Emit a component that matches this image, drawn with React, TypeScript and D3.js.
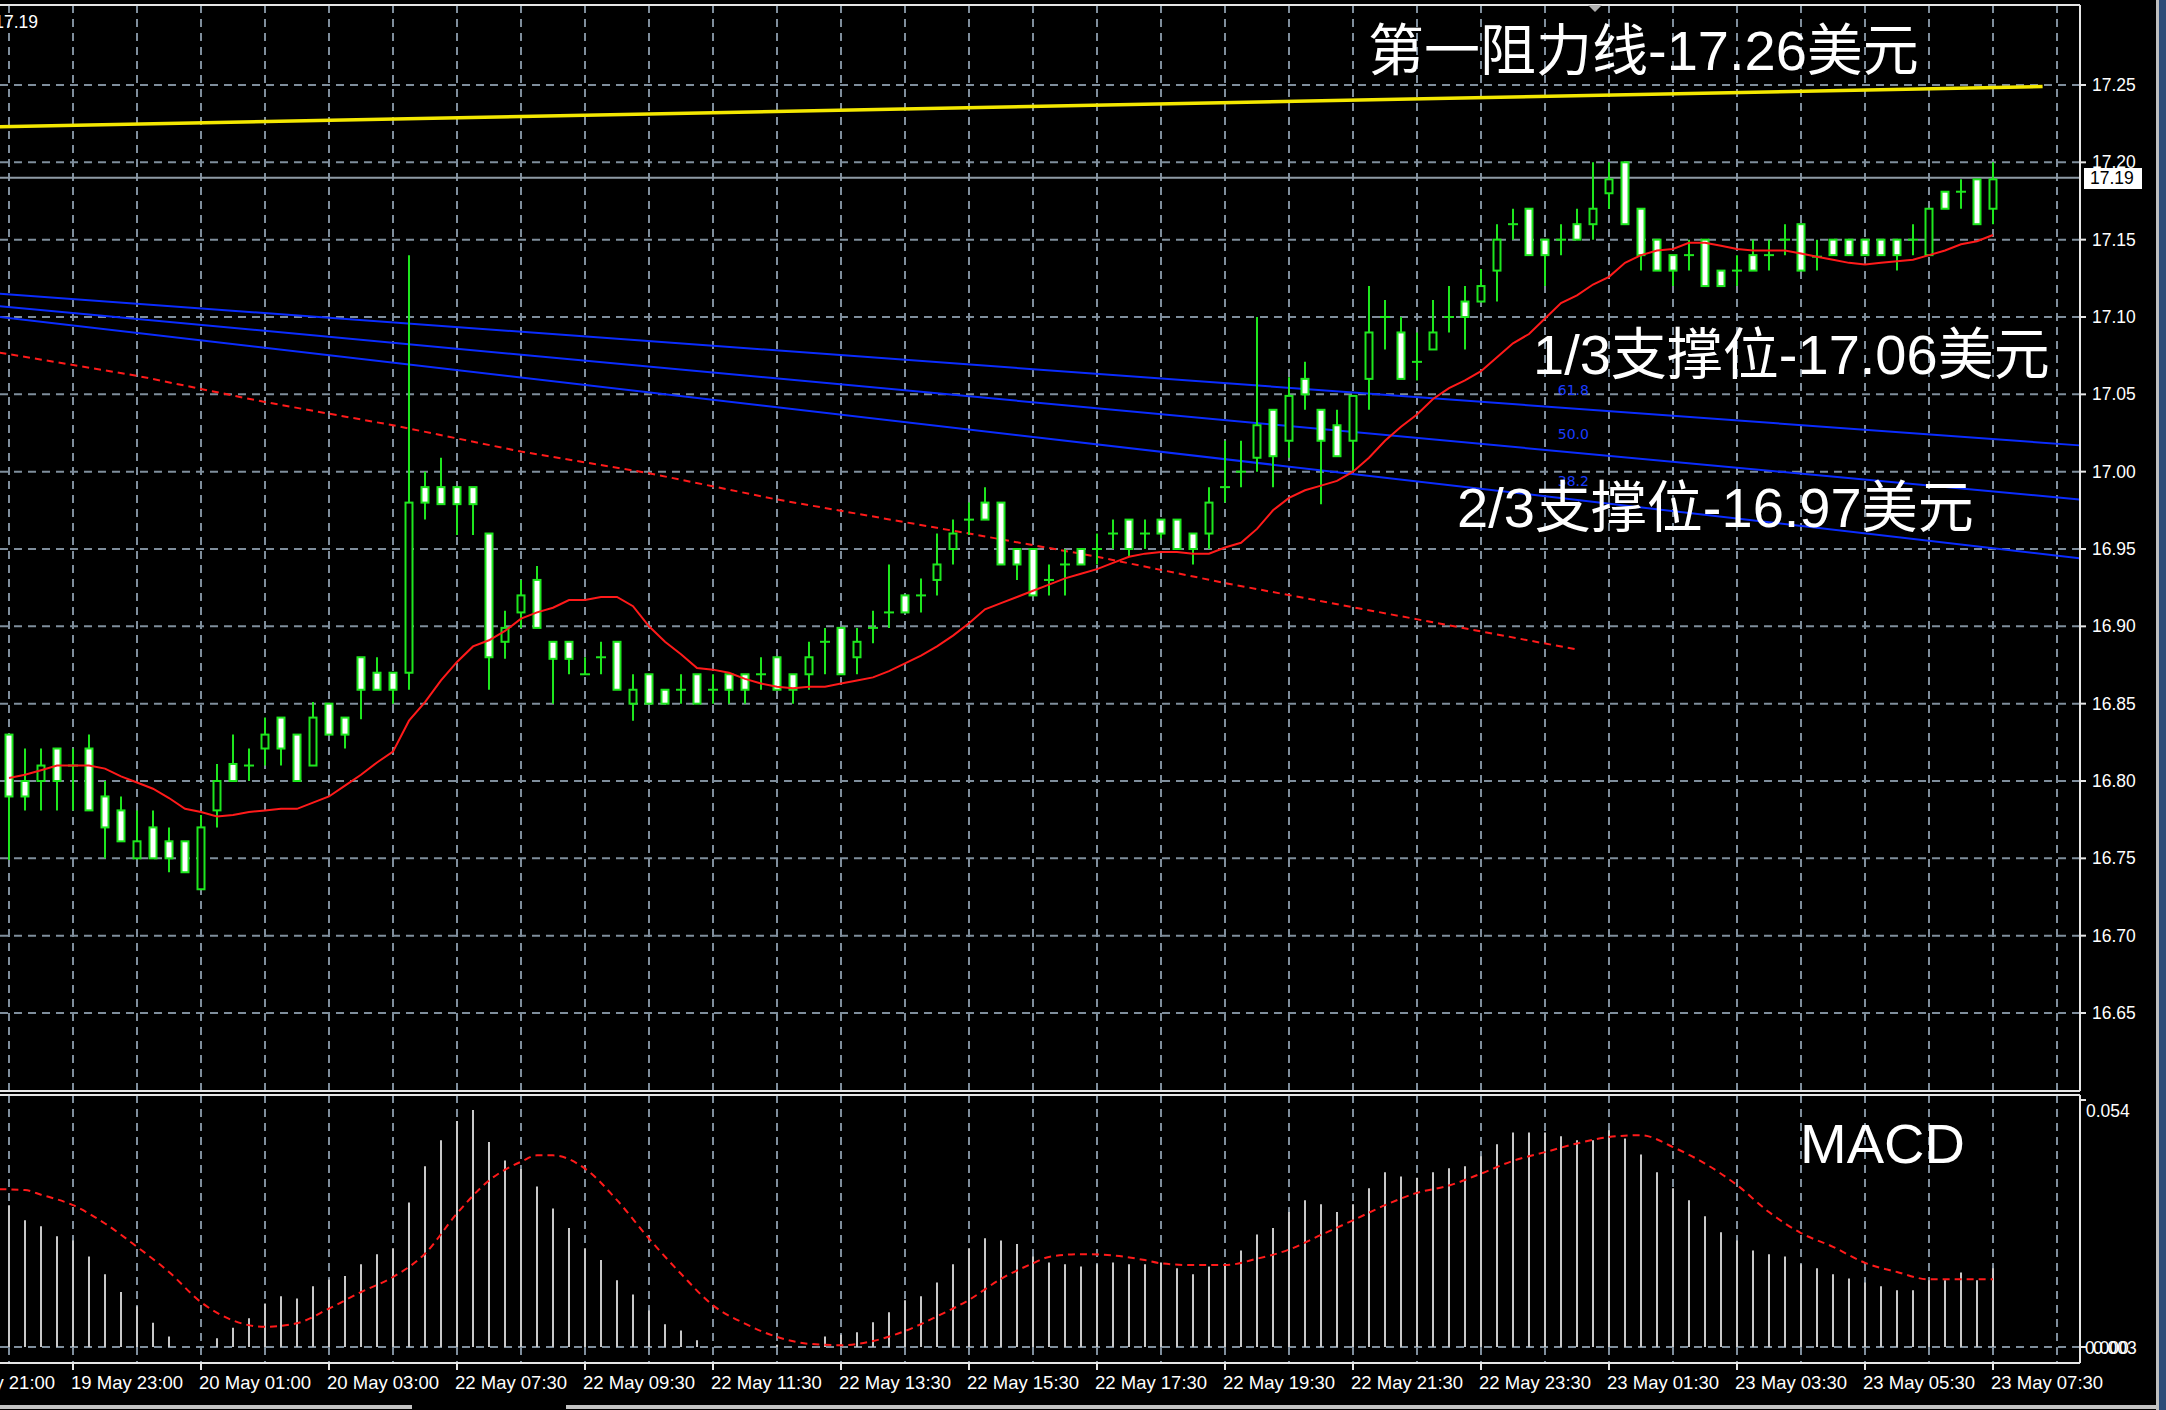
import React from 'react';
import * as d3 from 'd3';

// 15-minute candles, index 0 .. 124 (last bar = 23 May 07:30)
const opens = [
  16.830, 16.800, 16.800, 16.821, 16.810, 16.821, 16.790, 16.781, 16.750, 16.770,
  16.761, 16.761, 16.730, 16.781, 16.811, 16.810, 16.821, 16.841, 16.830, 16.810,
  16.850, 16.841, 16.880, 16.870, 16.870, 16.870, 16.990, 16.990, 16.990, 16.990,
  16.960, 16.890, 16.909, 16.930, 16.890, 16.890, 16.869, 16.880, 16.890, 16.850,
  16.869, 16.859, 16.859, 16.869, 16.859, 16.869, 16.869, 16.869, 16.880, 16.869,
  16.869, 16.890, 16.899, 16.880, 16.899, 16.909, 16.920, 16.920, 16.930, 16.950,
  16.969, 16.980, 16.980, 16.950, 16.950, 16.930, 16.940, 16.950, 16.950, 16.960,
  16.969, 16.960, 16.969, 16.969, 16.960, 16.960, 16.990, 17.000, 17.009, 17.040,
  17.020, 17.060, 17.040, 17.030, 17.020, 17.060, 17.100, 17.090, 17.071, 17.079,
  17.100, 17.110, 17.110, 17.130, 17.160, 17.170, 17.150, 17.150, 17.160, 17.160,
  17.180, 17.200, 17.170, 17.150, 17.140, 17.140, 17.150, 17.130, 17.130, 17.140,
  17.140, 17.150, 17.160, 17.139, 17.150, 17.150, 17.150, 17.150, 17.150, 17.150,
  17.140, 17.181, 17.181, 17.189, 17.170,
];
const highs = [
  16.830, 16.821, 16.821, 16.821, 16.821, 16.830, 16.800, 16.790, 16.781, 16.781,
  16.770, 16.761, 16.778, 16.811, 16.830, 16.821, 16.841, 16.841, 16.830, 16.851,
  16.850, 16.841, 16.880, 16.880, 16.870, 17.140, 17.000, 17.009, 16.990, 16.990,
  16.960, 16.910, 16.930, 16.939, 16.890, 16.890, 16.880, 16.890, 16.890, 16.869,
  16.869, 16.859, 16.869, 16.869, 16.869, 16.869, 16.869, 16.880, 16.880, 16.869,
  16.890, 16.899, 16.899, 16.899, 16.910, 16.940, 16.920, 16.931, 16.960, 16.969,
  16.980, 16.990, 16.980, 16.950, 16.950, 16.940, 16.950, 16.950, 16.960, 16.969,
  16.969, 16.969, 16.969, 16.969, 16.960, 16.990, 17.020, 17.020, 17.100, 17.040,
  17.061, 17.071, 17.040, 17.040, 17.049, 17.120, 17.111, 17.100, 17.090, 17.111,
  17.120, 17.120, 17.131, 17.160, 17.170, 17.170, 17.150, 17.160, 17.170, 17.200,
  17.200, 17.200, 17.170, 17.150, 17.140, 17.150, 17.150, 17.130, 17.140, 17.150,
  17.150, 17.160, 17.160, 17.150, 17.150, 17.150, 17.150, 17.150, 17.150, 17.160,
  17.170, 17.181, 17.189, 17.189, 17.200,
];
const lows = [
  16.749, 16.781, 16.781, 16.781, 16.781, 16.781, 16.750, 16.761, 16.750, 16.750,
  16.741, 16.741, 16.730, 16.770, 16.800, 16.800, 16.810, 16.810, 16.800, 16.810,
  16.830, 16.821, 16.840, 16.859, 16.850, 16.859, 16.969, 16.979, 16.959, 16.959,
  16.859, 16.879, 16.899, 16.899, 16.850, 16.869, 16.869, 16.869, 16.859, 16.839,
  16.850, 16.850, 16.850, 16.850, 16.850, 16.850, 16.850, 16.859, 16.859, 16.850,
  16.859, 16.869, 16.869, 16.869, 16.889, 16.899, 16.909, 16.909, 16.920, 16.940,
  16.959, 16.969, 16.940, 16.930, 16.920, 16.920, 16.920, 16.940, 16.940, 16.950,
  16.945, 16.950, 16.957, 16.950, 16.940, 16.950, 16.980, 16.990, 17.000, 16.990,
  17.009, 17.040, 16.979, 17.010, 17.000, 17.040, 17.079, 17.060, 17.059, 17.079,
  17.090, 17.079, 17.110, 17.110, 17.150, 17.140, 17.120, 17.140, 17.150, 17.150,
  17.170, 17.160, 17.130, 17.130, 17.120, 17.130, 17.120, 17.120, 17.120, 17.130,
  17.130, 17.140, 17.130, 17.130, 17.140, 17.140, 17.140, 17.140, 17.130, 17.140,
  17.140, 17.170, 17.170, 17.160, 17.160,
];
const closes = [
  16.790, 16.790, 16.810, 16.800, 16.810, 16.781, 16.770, 16.761, 16.761, 16.750,
  16.750, 16.741, 16.770, 16.800, 16.800, 16.810, 16.830, 16.821, 16.800, 16.841,
  16.830, 16.830, 16.859, 16.859, 16.859, 16.980, 16.980, 16.979, 16.979, 16.979,
  16.880, 16.899, 16.920, 16.899, 16.879, 16.879, 16.869, 16.880, 16.859, 16.859,
  16.850, 16.850, 16.859, 16.850, 16.859, 16.859, 16.859, 16.869, 16.859, 16.859,
  16.880, 16.890, 16.869, 16.890, 16.899, 16.909, 16.909, 16.920, 16.940, 16.960,
  16.969, 16.969, 16.940, 16.940, 16.920, 16.930, 16.940, 16.940, 16.950, 16.960,
  16.950, 16.960, 16.960, 16.950, 16.950, 16.980, 16.990, 17.000, 17.030, 17.010,
  17.049, 17.050, 17.020, 17.010, 17.049, 17.090, 17.100, 17.060, 17.071, 17.090,
  17.100, 17.100, 17.120, 17.150, 17.160, 17.140, 17.140, 17.150, 17.150, 17.170,
  17.189, 17.160, 17.140, 17.130, 17.130, 17.140, 17.120, 17.120, 17.130, 17.130,
  17.140, 17.150, 17.130, 17.139, 17.140, 17.140, 17.140, 17.140, 17.140, 17.150,
  17.170, 17.170, 17.181, 17.160, 17.189,
];

// red moving average, one value per bar
const maValues = [
  16.802, 16.804, 16.807, 16.810, 16.810, 16.810, 16.808, 16.803, 16.799, 16.795,
  16.789, 16.782, 16.780, 16.777, 16.778, 16.780, 16.781, 16.782, 16.782, 16.786,
  16.790, 16.797, 16.804, 16.812, 16.819, 16.839, 16.851, 16.865, 16.877, 16.887,
  16.891, 16.897, 16.905, 16.909, 16.912, 16.917, 16.917, 16.919, 16.919, 16.913,
  16.900, 16.890, 16.882, 16.873, 16.872, 16.870, 16.866, 16.863, 16.861, 16.860,
  16.861, 16.861, 16.863, 16.865, 16.867, 16.871, 16.876, 16.881, 16.887, 16.894,
  16.902, 16.911, 16.915, 16.919, 16.923, 16.927, 16.931, 16.934, 16.937, 16.941,
  16.945, 16.947, 16.948, 16.948, 16.947, 16.947, 16.951, 16.954, 16.963, 16.975,
  16.983, 16.988, 16.991, 16.994, 17.000, 17.009, 17.020, 17.029, 17.037, 17.047,
  17.054, 17.059, 17.065, 17.074, 17.083, 17.089, 17.099, 17.109, 17.114, 17.121,
  17.126, 17.135, 17.140, 17.143, 17.144, 17.148, 17.148, 17.146, 17.144, 17.143,
  17.143, 17.143, 17.141, 17.139, 17.137, 17.135, 17.134, 17.135, 17.136, 17.137,
  17.140, 17.143, 17.147, 17.149, 17.153,
];

// descending red dashed line [bar index, price]
const redDashPoints: [number, number][] = [
  [-0.6, 17.077], [8, 17.062], [16, 17.045], [24, 17.030], [32, 17.013], [40, 16.999],
  [48, 16.982], [60, 16.960], [68, 16.945], [76, 16.928], [98, 16.885],
];

// fibonacci fan lines
const fanLevels = ['61.8', '50.0', '38.2'];
const fanIdx = [-0.6, 129.4];
const fanStart = [17.115, 17.107, 17.100];
const fanEnd = [17.017, 16.982, 16.944];

// yellow resistance line
const resistIdx = [-0.6, 127.1];
const resistPrice = [17.223, 17.249];

const currentPrice = 17.19;
const priceTicks = [16.65, 16.7, 16.75, 16.8, 16.85, 16.9, 16.95, 17.0, 17.05, 17.1, 17.15, 17.2, 17.25];

const timeLabels = [
  '19 May 21:00', '19 May 23:00', '20 May 01:00', '20 May 03:00', '22 May 07:30',
  '22 May 09:30', '22 May 11:30', '22 May 13:30', '22 May 15:30', '22 May 17:30',
  '22 May 19:30', '22 May 21:30', '22 May 23:30', '23 May 01:30', '23 May 03:30',
  '23 May 05:30', '23 May 07:30',
];

// MACD histogram, one value per bar
const macdHist = [
  0.0310, 0.0277, 0.0264, 0.0242, 0.0233, 0.0198, 0.0159, 0.0120, 0.0089, 0.0053,
  0.0023, 0.0000, 0.0000, 0.0019, 0.0042, 0.0063, 0.0095, 0.0111, 0.0106, 0.0133,
  0.0147, 0.0155, 0.0181, 0.0203, 0.0216, 0.0316, 0.0395, 0.0452, 0.0494, 0.0518,
  0.0448, 0.0408, 0.0389, 0.0351, 0.0303, 0.0260, 0.0216, 0.0190, 0.0146, 0.0115,
  0.0080, 0.0050, 0.0036, 0.0015, 0.0000, 0.0000, 0.0000, 0.0000, 0.0005, 0.0000,
  0.0000, 0.0023, 0.0027, 0.0032, 0.0054, 0.0076, 0.0102, 0.0111, 0.0141, 0.0181,
  0.0216, 0.0238, 0.0233, 0.0225, 0.0198, 0.0185, 0.0181, 0.0176, 0.0181, 0.0185,
  0.0181, 0.0181, 0.0185, 0.0172, 0.0159, 0.0176, 0.0181, 0.0211, 0.0246, 0.0260,
  0.0295, 0.0321, 0.0312, 0.0295, 0.0312, 0.0347, 0.0382, 0.0373, 0.0370, 0.0382,
  0.0391, 0.0395, 0.0417, 0.0443, 0.0469, 0.0469, 0.0469, 0.0461, 0.0452, 0.0452,
  0.0474, 0.0456, 0.0421, 0.0382, 0.0347, 0.0321, 0.0286, 0.0251, 0.0233, 0.0211,
  0.0203, 0.0198, 0.0181, 0.0172, 0.0159, 0.0150, 0.0141, 0.0133, 0.0124, 0.0124,
  0.0146, 0.0146, 0.0163, 0.0146, 0.0172,
];

// MACD signal line [bar index, value]
const signalPoints: [number, number][] = [
  [-0.6, 0.0345], [1, 0.0343], [2, 0.0333], [4, 0.0310], [6, 0.0270], [8, 0.0219],
  [10, 0.0164], [12, 0.0098], [14, 0.0058], [16, 0.0044], [18, 0.0052], [20, 0.0084],
  [22, 0.0120], [24, 0.0153], [26, 0.0204], [28, 0.0292], [30, 0.0364], [32, 0.0405],
  [33, 0.0419], [34, 0.0419], [36, 0.0390], [38, 0.0321], [40, 0.0237], [42, 0.0160],
  [44, 0.0091], [46, 0.0051], [48, 0.0022], [50, 0.0007], [52, 0.0004], [54, 0.0013],
  [56, 0.0035], [58, 0.0067], [60, 0.0103], [62, 0.0149], [64, 0.0183], [65, 0.0197],
  [67, 0.0203], [69, 0.0200], [71, 0.0190], [72, 0.0183], [74, 0.0179], [76, 0.0179],
  [78, 0.0193], [80, 0.0213], [82, 0.0245], [84, 0.0277], [86, 0.0310], [88, 0.0337],
  [90, 0.0353], [92, 0.0379], [94, 0.0407], [96, 0.0426], [98, 0.0445], [100, 0.0459],
  [102, 0.0463], [104, 0.0437], [106, 0.0401], [108, 0.0354], [110, 0.0295], [112, 0.0249],
  [114, 0.0219], [116, 0.0184], [118, 0.0164], [120, 0.0148], [122, 0.0148], [124, 0.0148],
];

const notes = ['第一阻力线-17.26美元', '1/3支撑位-17.06美元', '2/3支撑位-16.97美元'];

const App: React.FC = () => {
  const W = 2166;
  const H = 1410;
  const right = 2080;
  const priceTop = 5;
  const priceBottom = 1091;
  const macdTop = 1095;
  const macdBottom = 1363;

  const x = d3.scaleLinear().domain([0, 124]).range([9, 1993]);
  const y = d3.scaleLinear().domain([16.65, 17.25]).range([1013, 85]);
  const ym = d3.scaleLinear().domain([0, 0.054]).range([1347, 1100]);

  const green = '#1ee61e';
  const gridColor = '#7f8e9c';
  const font = '"Liberation Sans", "Noto Sans CJK SC", Arial, sans-serif';
  const bigFont = '"Liberation Sans", "Noto Sans CJK SC", sans-serif';

  const gridX = d3.range(0, 129, 4).map(i => x(i));

  const maLine = d3.line<number>()
    .x((_, i) => x(i))
    .y(d => y(d))(maValues) || '';

  const dashLine = d3.line<[number, number]>()
    .x(d => x(d[0]))
    .y(d => y(d[1]))(redDashPoints) || '';

  const signalLine = d3.line<[number, number]>()
    .x(d => x(d[0]))
    .y(d => ym(d[1]))
    .curve(d3.curveMonotoneX)(signalPoints) || '';

  const fanY = fanLevels.map((_, k) =>
    d3.scaleLinear().domain(fanIdx).range([fanStart[k], fanEnd[k]]));

  const fanLabelIdx = 96.8;

  return (
    <svg width={W} height={H} style={{ position: 'absolute', left: 0, top: 0, display: 'block' }}>
      <defs>
        <clipPath id="pricePanel">
          <rect x={0} y={priceTop} width={right} height={priceBottom - priceTop} />
        </clipPath>
        <clipPath id="macdPanel">
          <rect x={0} y={macdTop} width={right} height={macdBottom - macdTop} />
        </clipPath>
      </defs>
      <rect x={0} y={0} width={W} height={H} fill="#000" />

      {/* grid, price panel */}
      <g clipPath="url(#pricePanel)" stroke={gridColor} strokeWidth={2} strokeDasharray="8,6">
        {gridX.map((gx, k) => (
          <line key={'vx' + k} x1={gx} x2={gx} y1={priceTop} y2={priceBottom} />
        ))}
        {priceTicks.map((p, k) => (
          <line key={'hy' + k} x1={0} x2={right} y1={y(p)} y2={y(p)} />
        ))}
      </g>

      {/* grid, macd panel */}
      <g clipPath="url(#macdPanel)" stroke={gridColor} strokeWidth={2} strokeDasharray="8,6">
        {gridX.map((gx, k) => (
          <line key={'mx' + k} x1={gx} x2={gx} y1={macdTop} y2={macdBottom} />
        ))}
        <line x1={0} x2={right} y1={ym(0)} y2={ym(0)} />
      </g>

      <g clipPath="url(#pricePanel)">
        {/* current price line */}
        <line x1={0} x2={right} y1={y(currentPrice)} y2={y(currentPrice)} stroke="#8f9ba6" strokeWidth={2} />

        {/* yellow resistance */}
        <line
          x1={x(resistIdx[0])} y1={y(resistPrice[0])}
          x2={x(resistIdx[1])} y2={y(resistPrice[1])}
          stroke="#f4e800" strokeWidth={3.5}
        />

        {/* fibonacci fan */}
        {fanLevels.map((lv, k) => (
          <g key={lv}>
            <line
              x1={x(fanIdx[0])} y1={y(fanStart[k])}
              x2={x(fanIdx[1])} y2={y(fanEnd[k])}
              stroke="#0a2cff" strokeWidth={2}
            />
            <text
              x={x(fanLabelIdx)} y={y(fanY[k](fanLabelIdx)) - 12}
              fill="#1a3cff" fontSize={14} fontFamily="DejaVu Sans, sans-serif"
            >{lv}</text>
          </g>
        ))}

        {/* red dashed trend */}
        <path d={dashLine} fill="none" stroke="#ff1a1a" strokeWidth={2} strokeDasharray="7,5" />

        {/* candles */}
        {opens.map((o, i) => {
          const c = closes[i];
          const cx = x(i);
          return (
            <g key={'c' + i}>
              <line x1={cx} x2={cx} y1={y(highs[i])} y2={y(lows[i])} stroke={green} strokeWidth={2} />
              {o === c ? (
                <line x1={cx - 5} x2={cx + 5} y1={y(o)} y2={y(o)} stroke={green} strokeWidth={2} />
              ) : (
                <rect
                  x={cx - 3.5}
                  y={y(Math.max(o, c))}
                  width={7}
                  height={Math.abs(y(o) - y(c))}
                  fill={c < o ? '#ffffff' : '#000000'}
                  stroke={green}
                  strokeWidth={2}
                />
              )}
            </g>
          );
        })}

        {/* moving average */}
        <path d={maLine} fill="none" stroke="#ff1a1a" strokeWidth={2} />
      </g>

      {/* macd */}
      <g clipPath="url(#macdPanel)">
        {macdHist.map((v, i) => (
          <line key={'h' + i} x1={x(i)} x2={x(i)} y1={ym(0)} y2={ym(v)} stroke="#c9c9c9" strokeWidth={2} />
        ))}
        <path d={signalLine} fill="none" stroke="#ff1a1a" strokeWidth={2} strokeDasharray="7,5" />
      </g>

      {/* frames */}
      <g stroke="#e6e6e6" strokeWidth={2} fill="none">
        <line x1={0} x2={right} y1={priceTop} y2={priceTop} />
        <line x1={right} x2={right} y1={priceTop} y2={priceBottom} />
        <line x1={0} x2={right} y1={priceBottom} y2={priceBottom} />
        <line x1={0} x2={right} y1={macdTop} y2={macdTop} />
        <line x1={right} x2={right} y1={macdTop} y2={macdBottom} />
        <line x1={0} x2={right} y1={macdBottom} y2={macdBottom} />
      </g>

      {/* shift marker */}
      <path d="M1588,5 L1602,5 L1595,12 Z" fill="#b0b0b0" />

      {/* price axis */}
      <g fontFamily={font} fontSize={17.5} fill="#ffffff">
        {priceTicks.map((p, k) => (
          <g key={'pt' + k}>
            <line x1={right} x2={right + 6} y1={y(p)} y2={y(p)} stroke="#e6e6e6" strokeWidth={2} />
            <text x={right + 12} y={y(p) + 6}>{p.toFixed(2)}</text>
          </g>
        ))}
        <rect x={2084} y={168} width={58} height={21} fill="#ffffff" />
        <text x={2090} y={y(currentPrice) + 6} fill="#000000">{currentPrice.toFixed(2)}</text>
        <text x={38} y={28} textAnchor="end">{currentPrice.toFixed(2)}</text>
      </g>

      {/* macd axis */}
      <g fontFamily={font} fontSize={17.5} fill="#ffffff">
        <line x1={right} x2={right + 6} y1={ym(0.054)} y2={ym(0.054)} stroke="#e6e6e6" strokeWidth={2} />
        <text x={right + 6} y={1117}>0.054</text>
        <line x1={right} x2={right + 6} y1={ym(0)} y2={ym(0)} stroke="#e6e6e6" strokeWidth={2} />
        <text x={right + 5} y={ym(0) + 7}>0.000</text>
        <text x={right + 13} y={ym(0) + 7}>0.003</text>
      </g>

      {/* time axis */}
      <g fontFamily={font} fontSize={18.5} fill="#ffffff">
        {timeLabels.map((t, k) => {
          const tx = x(-4 + k * 8);
          return (
            <g key={'tl' + k}>
              <line x1={tx} x2={tx} y1={macdBottom} y2={macdBottom + 7} stroke="#e6e6e6" strokeWidth={2} />
              <text x={tx - 2} y={1389}>{t}</text>
            </g>
          );
        })}
      </g>

      {/* annotations */}
      <g fontFamily={bigFont} fontSize={56} fill="#ffffff">
        <text x={1368} y={70}>{notes[0]}</text>
        <text x={1533} y={374}>{notes[1]}</text>
        <text x={1457} y={527}>{notes[2]}</text>
        <text x={1800} y={1163}>MACD</text>
      </g>

      {/* window chrome */}
      <rect x={0} y={1405} width={412} height={4} fill="#c4c4c4" />
      <rect x={566} y={1405} width={1592} height={4} fill="#c4c4c4" />
      <rect x={2156} y={0} width={3} height={H} fill="#bfbfbf" />
      <rect x={2159} y={0} width={7} height={H} fill="#2e4c78" />
    </svg>
  );
};

export default App;
